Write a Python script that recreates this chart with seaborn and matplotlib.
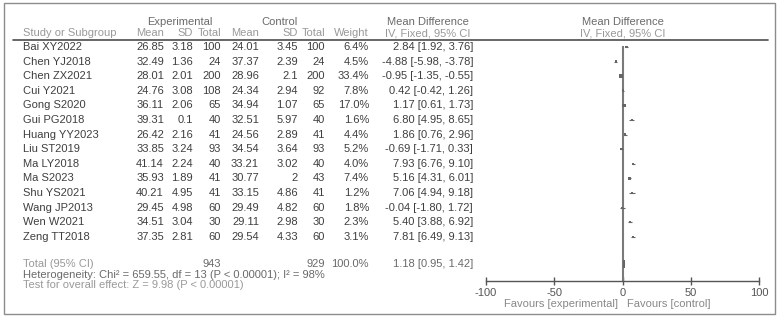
import matplotlib
matplotlib.use("Agg")
import matplotlib.pyplot as plt
import pandas as pd
import seaborn as sns
from matplotlib.patches import Rectangle

# Daten aus der Abbildung
studies = ["Bai XY2022", "Chen YJ2018", "Chen ZX2021", "Cui Y2021", "Gong S2020",
           "Gui PG2018", "Huang YY2023", "Liu ST2019", "Ma LY2018", "Ma S2023",
           "Shu YS2021", "Wang JP2013", "Wen W2021", "Zeng TT2018"]
exp_mean = [26.85, 32.49, 28.01, 24.76, 36.11, 39.31, 26.42, 33.85, 41.14, 35.93, 40.21, 29.45, 34.51, 37.35]
exp_sd = ["3.18", "1.36", "2.01", "3.08", "2.06", "0.1", "2.16", "3.24", "2.24", "1.89", "4.95", "4.98", "3.04", "2.81"]
exp_n = [100, 24, 200, 108, 65, 40, 41, 93, 40, 41, 41, 60, 30, 60]
ctrl_mean = [24.01, 37.37, 28.96, 24.34, 34.94, 32.51, 24.56, 34.54, 33.21, 30.77, 33.15, 29.49, 29.11, 29.54]
ctrl_sd = ["3.45", "2.39", "2.1", "2.94", "1.07", "5.97", "2.89", "3.64", "3.02", "2", "4.86", "4.82", "2.98", "4.33"]
ctrl_n = [100, 24, 200, 92, 65, 40, 41, 93, 40, 43, 41, 60, 30, 60]
weight = [6.4, 4.5, 33.4, 7.8, 17.0, 1.6, 4.4, 5.2, 4.0, 7.4, 1.2, 1.8, 2.3, 3.1]
md = [2.84, -4.88, -0.95, 0.42, 1.17, 6.80, 1.86, -0.69, 7.93, 5.16, 7.06, -0.04, 5.40, 7.81]
ci_lo = [1.92, -5.98, -1.35, -0.42, 0.61, 4.95, 0.76, -1.71, 6.76, 4.31, 4.94, -1.80, 3.88, 6.49]
ci_hi = [3.76, -3.78, -0.55, 1.26, 1.73, 8.65, 2.96, 0.33, 9.10, 6.01, 9.18, 1.72, 6.92, 9.13]

total_exp, total_ctrl = 943, 929
total_md, total_lo, total_hi = 1.18, 0.95, 1.42
het_text = "Heterogeneity: Chi\u00b2 = 659.55, df = 13 (P < 0.00001); I\u00b2 = 98%"
test_text = "Test for overall effect: Z = 9.98 (P < 0.00001)"
axis_ticks = [-100, -50, 0, 50, 100]

W, H = 781, 324
ROW0, ROWH = 47, 14.6        # Pixel-y der ersten Studienzeile, Zeilenabstand
Y_TOTAL, Y_HET, Y_TEST = 264, 274.5, 285.5
FS = 8
DARK, MID, LIGHT = "#3f3f3f", "#6a6a6a", "#999999"

sns.set_theme(style="white")
plt.rcParams['font.family'] = ['Liberation Sans', 'DejaVu Sans']

fig = plt.figure(figsize=(W / 100, H / 100), dpi=100)
bg = fig.add_axes([0, 0, 1, 1])
bg.set_xlim(0, W)
bg.set_ylim(H, 0)
bg.axis("off")

# Rahmen und Kopflinie
bg.add_patch(Rectangle((4, 3), 771, 311, fill=False, ec="#8c8c8c", lw=1))
bg.plot([13, 768], [40, 40], color="#4d4d4d", lw=1.2)

def txt(x, y, s, ha="left", color=DARK, size=FS):
    bg.text(x, y, s, ha=ha, va="center", color=color, fontsize=size)

# Kopfzeilen
txt(180, 22, "Experimental", "center", MID)
txt(279, 22, "Control", "center", MID)
txt(428, 22, "Mean Difference", "center", MID)
txt(623, 22, "Mean Difference", "center", MID)

txt(23, 33, "Study or Subgroup", color=LIGHT)
cols = {"em": 164, "esd": 193, "en": 221, "cm": 259, "csd": 298, "cn": 325, "w": 369, "ci": 473}
for key, lab in [("em", "Mean"), ("esd", "SD"), ("en", "Total"), ("cm", "Mean"),
                 ("csd", "SD"), ("cn", "Total"), ("w", "Weight")]:
    txt(cols[key], 33, lab, "right", LIGHT)
txt(428, 33, "IV, Fixed, 95% CI", "center", LIGHT)
txt(623, 33, "IV, Fixed, 95% CI", "center", LIGHT)

# Studienzeilen
for i, name in enumerate(studies):
    y = ROW0 + ROWH * i
    txt(23, y, name)
    txt(cols["em"], y, f"{exp_mean[i]:.2f}", "right")
    txt(cols["esd"], y, exp_sd[i], "right")
    txt(cols["en"], y, str(exp_n[i]), "right")
    txt(cols["cm"], y, f"{ctrl_mean[i]:.2f}", "right")
    txt(cols["csd"], y, ctrl_sd[i], "right")
    txt(cols["cn"], y, str(ctrl_n[i]), "right")
    txt(cols["w"], y, f"{weight[i]:.1f}%", "right")
    txt(cols["ci"], y, f"{md[i]:.2f} [{ci_lo[i]:.2f}, {ci_hi[i]:.2f}]", "right")

# Gesamt und Fusszeilen
txt(23, Y_TOTAL, "Total (95% CI)", color=LIGHT)
txt(cols["en"], Y_TOTAL, str(total_exp), "right", MID)
txt(cols["cn"], Y_TOTAL, str(total_ctrl), "right", MID)
txt(cols["w"], Y_TOTAL, "100.0%", "right", MID)
txt(cols["ci"], Y_TOTAL, f"{total_md:.2f} [{total_lo:.2f}, {total_hi:.2f}]", "right", MID)
txt(23, Y_HET, het_text, color=MID)
txt(23, Y_TEST, test_text, color=LIGHT)

# Forest-Plot-Achse
x_left, x_right, y_top, y_bot = 486, 759, 46, 281
ax = fig.add_axes([x_left / W, 1 - y_bot / H, (x_right - x_left) / W, (y_bot - y_top) / H])
ax.set_facecolor("none")
ax.set_xlim(-100, 100)
ax.set_ylim((y_bot - ROW0) / ROWH, (y_top - ROW0) / ROWH)

df = pd.DataFrame({"md": md, "lo": ci_lo, "hi": ci_hi, "w": weight, "row": range(len(studies))})
ax.axvline(0, color="#7a7a7a", lw=1.5, zorder=1)
ax.hlines(df["row"], df["lo"], df["hi"], color="#666666", lw=0.8, zorder=2)
sns.scatterplot(data=df, x="md", y="row", size="w", sizes=(2, 10), marker="s",
                color="#666666", edgecolor="none", legend=False, ax=ax, zorder=3)
r_tot = (Y_TOTAL - ROW0) / ROWH
ax.fill([total_lo, total_md, total_hi, total_md],
        [r_tot, r_tot - 0.25, r_tot, r_tot + 0.25], color="#666666", zorder=3)

for side in ["top", "left", "right"]:
    ax.spines[side].set_visible(False)
ax.spines["bottom"].set_color("#555555")
ax.spines["bottom"].set_linewidth(1)
ax.set_xticks(axis_ticks)
ax.set_xticklabels([str(t) for t in axis_ticks])
ax.set_yticks([])
ax.set_xlabel("")
ax.set_ylabel("")
ax.tick_params(axis="x", bottom=True, direction="inout", length=6, width=1,
               color="#555555", labelsize=FS, labelcolor="#555555", pad=2)

txt(618, 304, "Favours [experimental]", "right", "#888888")
txt(627, 304, "Favours [control]", "left", "#888888")

fig.savefig("out.png", dpi=100)
